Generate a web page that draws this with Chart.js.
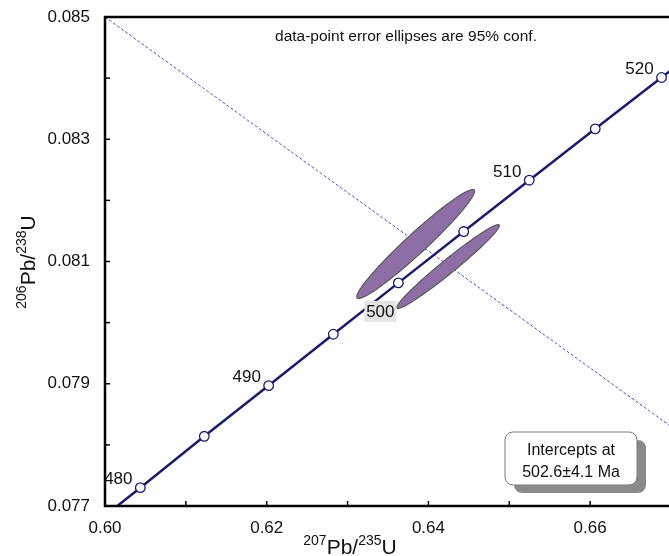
<!DOCTYPE html>
<html>
<head>
<meta charset="utf-8">
<script src="https://cdn.jsdelivr.net/npm/chart.js@4"></script>
<style>
  html, body { margin: 0; padding: 0; background: #fff; overflow: hidden; }
  #wrap { width: 669px; height: 556px; overflow: hidden; }
</style>
</head>
<body>
<div id="wrap"><canvas id="concordia" width="672" height="556"></canvas></div>
<script>
// concordia curve, ages in Ma (475 and 525 only extend the line past the axes)
const curveAges = [475, 480, 485, 490, 495, 500, 505, 510, 515, 520, 525];
const curveX = [0.59648, 0.60437, 0.61228, 0.62024, 0.62824, 0.63628, 0.64436, 0.65247, 0.66063, 0.66883, 0.67707];
const curveY = [0.07647, 0.07730, 0.07814, 0.07897, 0.07981, 0.08065, 0.08149, 0.08233, 0.08317, 0.08401, 0.08485];
const labelAges = [480, 490, 500, 510, 520];

// discordia line through the intercept
const discX = [0.600, 0.670];
const discY = [0.0850, 0.0783];

// data-point error ellipses (95% half widths and correlation)
const ellX = [0.63842, 0.64244];
const ellY = [0.081287, 0.080918];
const ellHx = [0.007285, 0.006338];
const ellHy = [0.000891, 0.000685];
const ellRho = [0.968, 0.977];

const xTickLabels = ['0.60', '0.62', '0.64', '0.66'];
const yTickLabels = ['0.077', '0.079', '0.081', '0.083', '0.085'];

const FONT = '"Liberation Sans", Arial, sans-serif';
const NAVY = '#1b1b6b';

function drawSup(ctx, parts, x, y, big, small) {
  let w = 0;
  parts.forEach(p => {
    ctx.font = (p[1] ? small : big) + 'px ' + FONT;
    w += ctx.measureText(p[0]).width;
  });
  let cx = x - w / 2;
  ctx.textAlign = 'left';
  ctx.textBaseline = 'alphabetic';
  parts.forEach(p => {
    ctx.font = (p[1] ? small : big) + 'px ' + FONT;
    ctx.fillText(p[0], cx, p[1] ? y - big * 0.42 : y);
    cx += ctx.measureText(p[0]).width;
  });
}

const ellipsePlugin = {
  id: 'ellipses',
  afterDatasetDraw(chart, args) {
    if (args.index !== 1) return;
    const ctx = chart.ctx, xs = chart.scales.x, ys = chart.scales.y, a = chart.chartArea;
    ctx.save();
    ctx.beginPath();
    ctx.rect(a.left, a.top, a.right - a.left, a.bottom - a.top);
    ctx.clip();
    for (let i = 0; i < ellX.length; i++) {
      const r = ellRho[i], s = Math.sqrt(1 - r * r);
      ctx.beginPath();
      for (let k = 0; k <= 120; k++) {
        const t = k / 120 * Math.PI * 2;
        const px = xs.getPixelForValue(ellX[i] + ellHx[i] * Math.cos(t));
        const py = ys.getPixelForValue(ellY[i] + ellHy[i] * (r * Math.cos(t) + s * Math.sin(t)));
        if (k === 0) ctx.moveTo(px, py); else ctx.lineTo(px, py);
      }
      ctx.closePath();
      ctx.fillStyle = '#8d6fa6';
      ctx.fill();
      ctx.lineWidth = 1.2;
      ctx.strokeStyle = '#5a5a5a';
      ctx.stroke();
    }
    ctx.restore();
  }
};

const decorPlugin = {
  id: 'decor',
  afterDraw(chart) {
    const ctx = chart.ctx, xs = chart.scales.x, ys = chart.scales.y, a = chart.chartArea;
    ctx.save();

    // inward ticks
    ctx.strokeStyle = '#000';
    ctx.lineWidth = 1.5;
    for (let v = 600; v <= 670; v += 10) {
      const px = xs.getPixelForValue(v / 1000);
      ctx.beginPath(); ctx.moveTo(px, a.bottom); ctx.lineTo(px, a.bottom - 5); ctx.stroke();
    }
    for (let v = 77; v <= 85; v++) {
      const py = ys.getPixelForValue(v / 1000);
      ctx.beginPath(); ctx.moveTo(a.left, py); ctx.lineTo(a.left + 5, py); ctx.stroke();
    }

    // frame
    ctx.lineWidth = 2.5;
    ctx.strokeRect(a.left, a.top, a.right - a.left, a.bottom - a.top);

    // age labels
    ctx.font = '17px ' + FONT;
    ctx.fillStyle = '#111';
    ctx.textAlign = 'center';
    ctx.textBaseline = 'middle';
    labelAges.forEach(age => {
      const i = curveAges.indexOf(age);
      const px = xs.getPixelForValue(curveX[i]);
      const py = ys.getPixelForValue(curveY[i]);
      if (age === 500) {
        ctx.fillStyle = '#e3e3e3';
        ctx.fillRect(px - 34, py + 18, 32, 21);
        ctx.fillStyle = '#111';
        ctx.fillText(String(age), px - 18, py + 29);
      } else {
        ctx.fillText(String(age), px - 22, py - 8);
      }
    });

    // note at top
    ctx.font = '15.5px ' + FONT;
    ctx.fillText('data-point error ellipses are 95% conf.', 406, 37);

    // intercept box with shadow
    const bx = 505, by = 432, bw = 132, bh = 53;
    ctx.fillStyle = '#8a8a8a';
    ctx.beginPath(); ctx.roundRect(bx + 9, by + 8, bw, bh, 8); ctx.fill();
    ctx.fillStyle = '#fff';
    ctx.strokeStyle = '#7a7a7a';
    ctx.lineWidth = 1;
    ctx.beginPath(); ctx.roundRect(bx, by, bw, bh, 8); ctx.fill(); ctx.stroke();
    ctx.fillStyle = '#111';
    ctx.font = '16px ' + FONT;
    ctx.fillText('Intercepts at', bx + bw / 2, by + 19);
    ctx.fillText('502.6\u00b14.1 Ma', bx + bw / 2, by + 41);

    // axis titles
    ctx.fillStyle = '#111';
    drawSup(ctx, [['207', true], ['Pb/', false], ['235', true], ['U', false]], 350, 554, 21, 14);
    ctx.translate(35, 262);
    ctx.rotate(-Math.PI / 2);
    drawSup(ctx, [['206', true], ['Pb/', false], ['238', true], ['U', false]], 0, 0, 21, 14);
    ctx.restore();
  }
};

new Chart(document.getElementById('concordia'), {
  type: 'scatter',
  data: {
    datasets: [
      {
        data: curveX.map((x, i) => ({ x: x, y: curveY[i] })),
        showLine: true,
        borderColor: NAVY,
        borderWidth: 2.5,
        pointRadius: curveAges.map(a => (a >= 480 && a <= 520 ? 4.8 : 0)),
        pointBackgroundColor: '#fff',
        pointBorderColor: NAVY,
        pointBorderWidth: 1.3
      },
      {
        data: discX.map((x, i) => ({ x: x, y: discY[i] })),
        showLine: true,
        borderColor: '#5050c8',
        borderWidth: 1,
        borderDash: [3, 2],
        pointRadius: 0
      }
    ]
  },
  options: {
    responsive: false,
    animation: false,
    devicePixelRatio: 1,
    layout: { padding: { top: 17, right: 1, left: 0, bottom: 0 } },
    plugins: { legend: { display: false }, tooltip: { enabled: false } },
    scales: {
      x: {
        type: 'linear',
        min: 0.6,
        max: 0.67,
        afterFit(scale) {
          scale.height = 50;
          scale.paddingLeft = 0;
          scale.paddingRight = 0;
        },
        grid: { display: false },
        border: { display: false },
        ticks: {
          stepSize: 0.01,
          autoSkip: false,
          maxRotation: 0,
          padding: 4,
          color: '#111',
          font: { family: FONT, size: 17 },
          callback: v => {
            const s = v.toFixed(2);
            return xTickLabels.includes(s) ? s : '';
          }
        }
      },
      y: {
        type: 'linear',
        min: 0.077,
        max: 0.085,
        afterFit(scale) {
          scale.width = 105;
          scale.paddingTop = 0;
          scale.paddingBottom = 0;
        },
        grid: { display: false },
        border: { display: false },
        ticks: {
          stepSize: 0.001,
          autoSkip: false,
          padding: 7,
          color: '#111',
          font: { family: FONT, size: 17 },
          callback: v => {
            const s = v.toFixed(3);
            return yTickLabels.includes(s) ? s : '';
          }
        }
      }
    }
  },
  plugins: [ellipsePlugin, decorPlugin]
});
</script>
</body>
</html>
